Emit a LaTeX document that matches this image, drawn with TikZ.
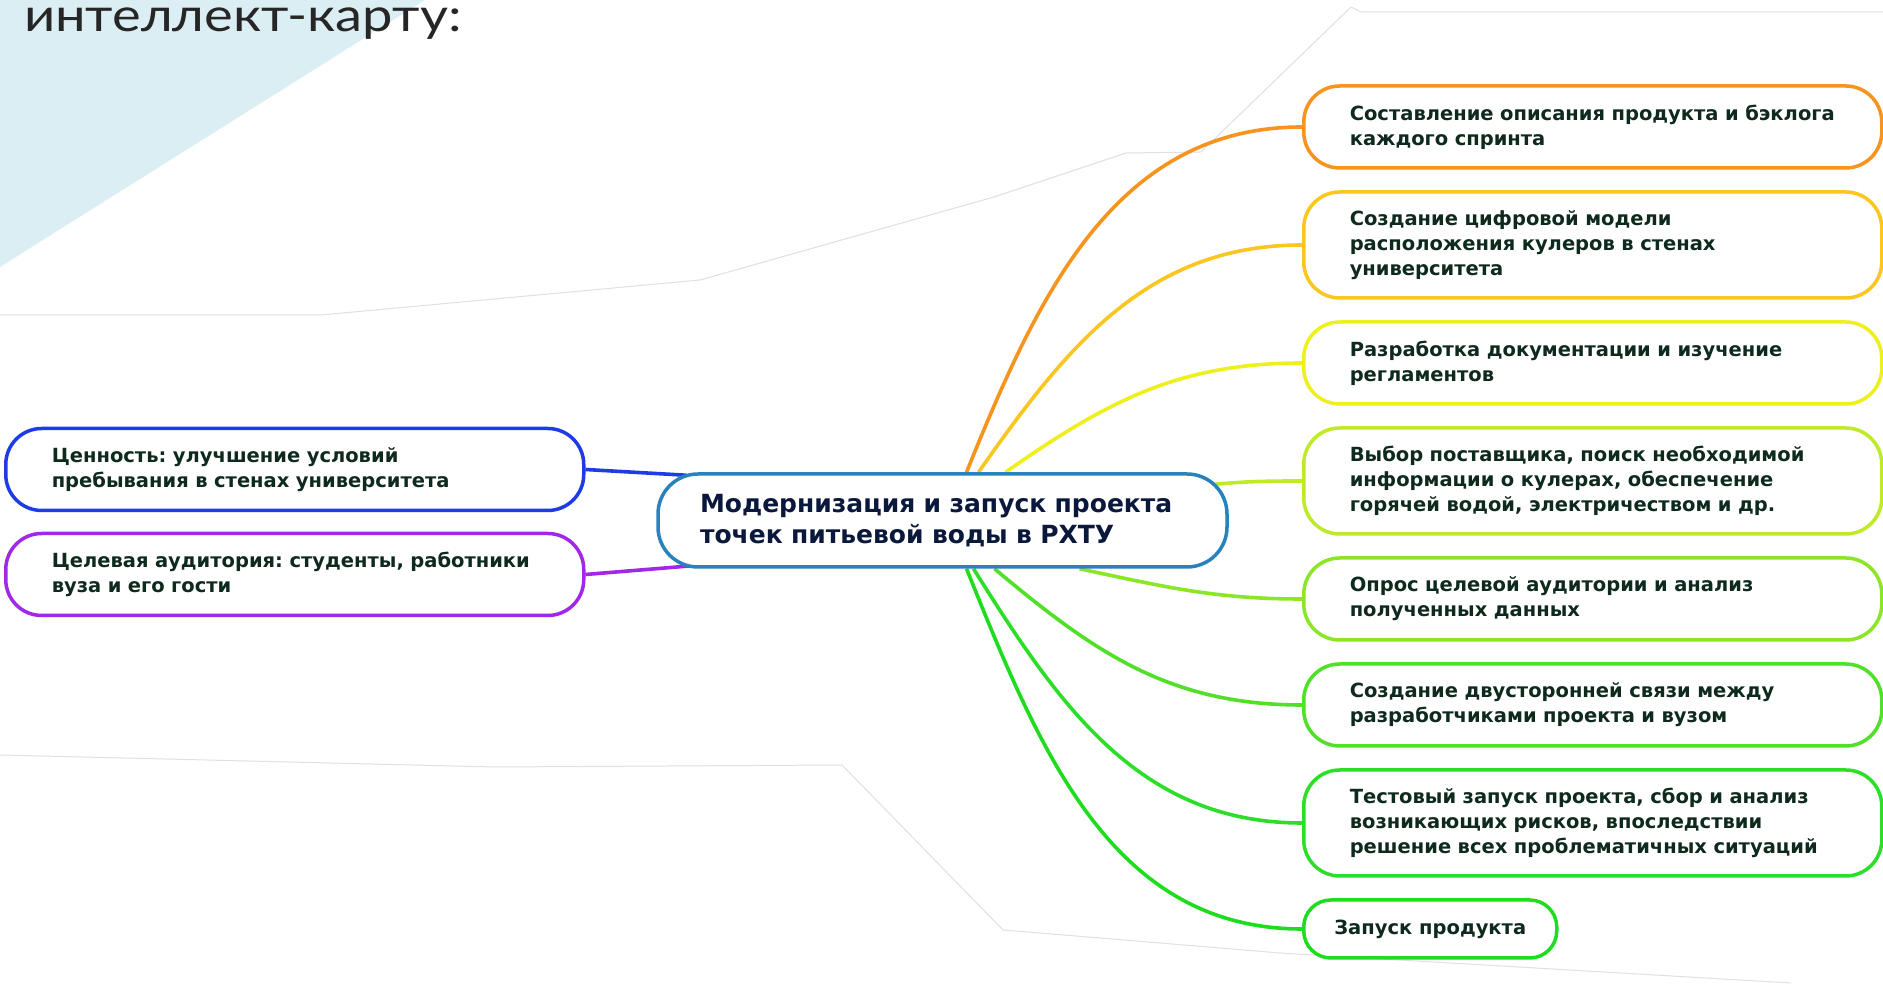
\documentclass[tikz,border=0pt]{standalone}
\usepackage{fontspec}
\setmainfont{DejaVu Sans}
\newfontfamily\titlefont{Lato}
\usetikzlibrary{calc,backgrounds}
\frenchspacing

\definecolor{sky}{RGB}{219,238,244}
\definecolor{leaftext}{RGB}{14,42,28}
\definecolor{roottext}{RGB}{10,24,60}
\definecolor{rootline}{RGB}{40,130,190}
\definecolor{orangeb}{RGB}{246,148,30}
\definecolor{goldb}{RGB}{252,198,32}
\definecolor{yellowb}{RGB}{238,240,30}
\definecolor{limeb}{RGB}{190,234,40}
\definecolor{grassb}{RGB}{140,230,40}
\definecolor{greenb}{RGB}{80,224,40}
\definecolor{greenc}{RGB}{45,222,40}
\definecolor{greend}{RGB}{30,220,30}
\definecolor{blueb}{RGB}{30,60,230}
\definecolor{violetb}{RGB}{160,40,230}

\tikzstyle{leaf}=[draw, line width=3.5pt, fill=white, rounded corners=36pt, text width=486pt, inner xsep=46pt, inner ysep=0pt, align=left, anchor=west, text=leaftext, font=\bfseries\fontsize{19.5}{25}\selectfont]
\tikzstyle{root}=[draw=rootline, line width=3.5pt, fill=white, rounded corners=40pt, text width=485pt, inner xsep=42pt, inner ysep=0pt, minimum height=93pt, align=left, text=roottext, font=\bfseries\fontsize{25}{31}\selectfont]
\tikzstyle{branch}=[draw, line width=3.6pt]
\tikzstyle{faint}=[draw=black!12, line width=1pt]

\begin{document}
\begin{tikzpicture}[x=1pt, y=1pt]
	\useasboundingbox (0,0) rectangle (1883,1001);
	\node[root] (root) at (942.5,480.5) {Модернизация и запуск проекта\\точек питьевой воды в РХТУ};
	\node[leaf, draw=blueb, minimum height=82pt] (value) at (4,531.5) {Ценность: улучшение условий\\пребывания в стенах университета};
	\node[leaf, draw=violetb, minimum height=82pt] (audience) at (4,426.5) {Целевая аудитория: студенты, работники\\вуза и его гости};

	\foreach \name/\y/\h/\col/\txt in {{plan/874/82/orangeb/{Составление описания продукта и бэклога\\каждого спринта}},
		{model/756/106/goldb/{Создание цифровой модели\\расположения кулеров в стенах\\университета}},
		{docs/638/82/yellowb/{Разработка документации и изучение\\регламентов}},
		{supply/520/106/limeb/{Выбор поставщика, поиск необходимой\\информации о кулерах, обеспечение\\горячей водой, электричеством и др.}},
		{poll/402/82/grassb/{Опрос целевой аудитории и анализ\\полученных данных}},
		{link/296/82/greenb/{Создание двусторонней связи между\\разработчиками проекта и вузом}},
		{test/178/106/greenc/{Тестовый запуск проекта, сбор и анализ\\возникающих рисков, впоследствии\\решение всех проблематичных ситуаций}}}
		\node[leaf, draw=\col, minimum height=\h pt] (\name) at (1302,\y) {\txt};
	\node[leaf, draw=greend, text width=, align=center, inner xsep=0pt, minimum width=253pt, minimum height=58pt, rounded corners=27pt] (launch) at (1302,72) {Запуск продукта};

	\begin{pgfonlayer}{background}
		\fill[white] (0,0) rectangle (1883,1001);
		\fill[sky] (0,1001) -- (425,1001) -- (0,734) -- cycle;
		\draw[faint] (0,686) -- (321,686) -- (700,721) -- (994,804) -- (1126,848) -- (1201,849) -- (1351,994) -- (1361,989) -- (1883,989);
		\draw[faint] (0,246) -- (495,234) -- (842,236) -- (1003,71) -- (1100,63) -- (1280,48) -- (1791,18);
		\node[anchor=base west, text=black!85, xscale=1.18, transform shape, font=\titlefont\fontsize{46}{46}\selectfont] (title) at (20,969) {интеллект-карту:};
		\foreach \side/\dx/\ang/\dest/\col in {north/24/68/plan/orangeb, north/36/55/model/goldb, north/63/35/docs/yellowb, south/137/-12/poll/grassb, south/52/-40/link/greenb, south/31/-58/test/greenc, south/24/-68/launch/greend}
			\path[branch, \col] ($(root.\side)+(\dx,0)$) to[out=\ang, in=180] (\dest.west);
		\path[branch, limeb] ($(root.north east)+(-14,-12)$) to[out=5, in=180] (supply.west);
		\path[branch, blueb] (value.east) -- ($(root.north west)+(30,-3)$);
		\path[branch, violetb] (audience.east) -- ($(root.south west)+(36,3)$);
	\end{pgfonlayer}
\end{tikzpicture}
\end{document}
